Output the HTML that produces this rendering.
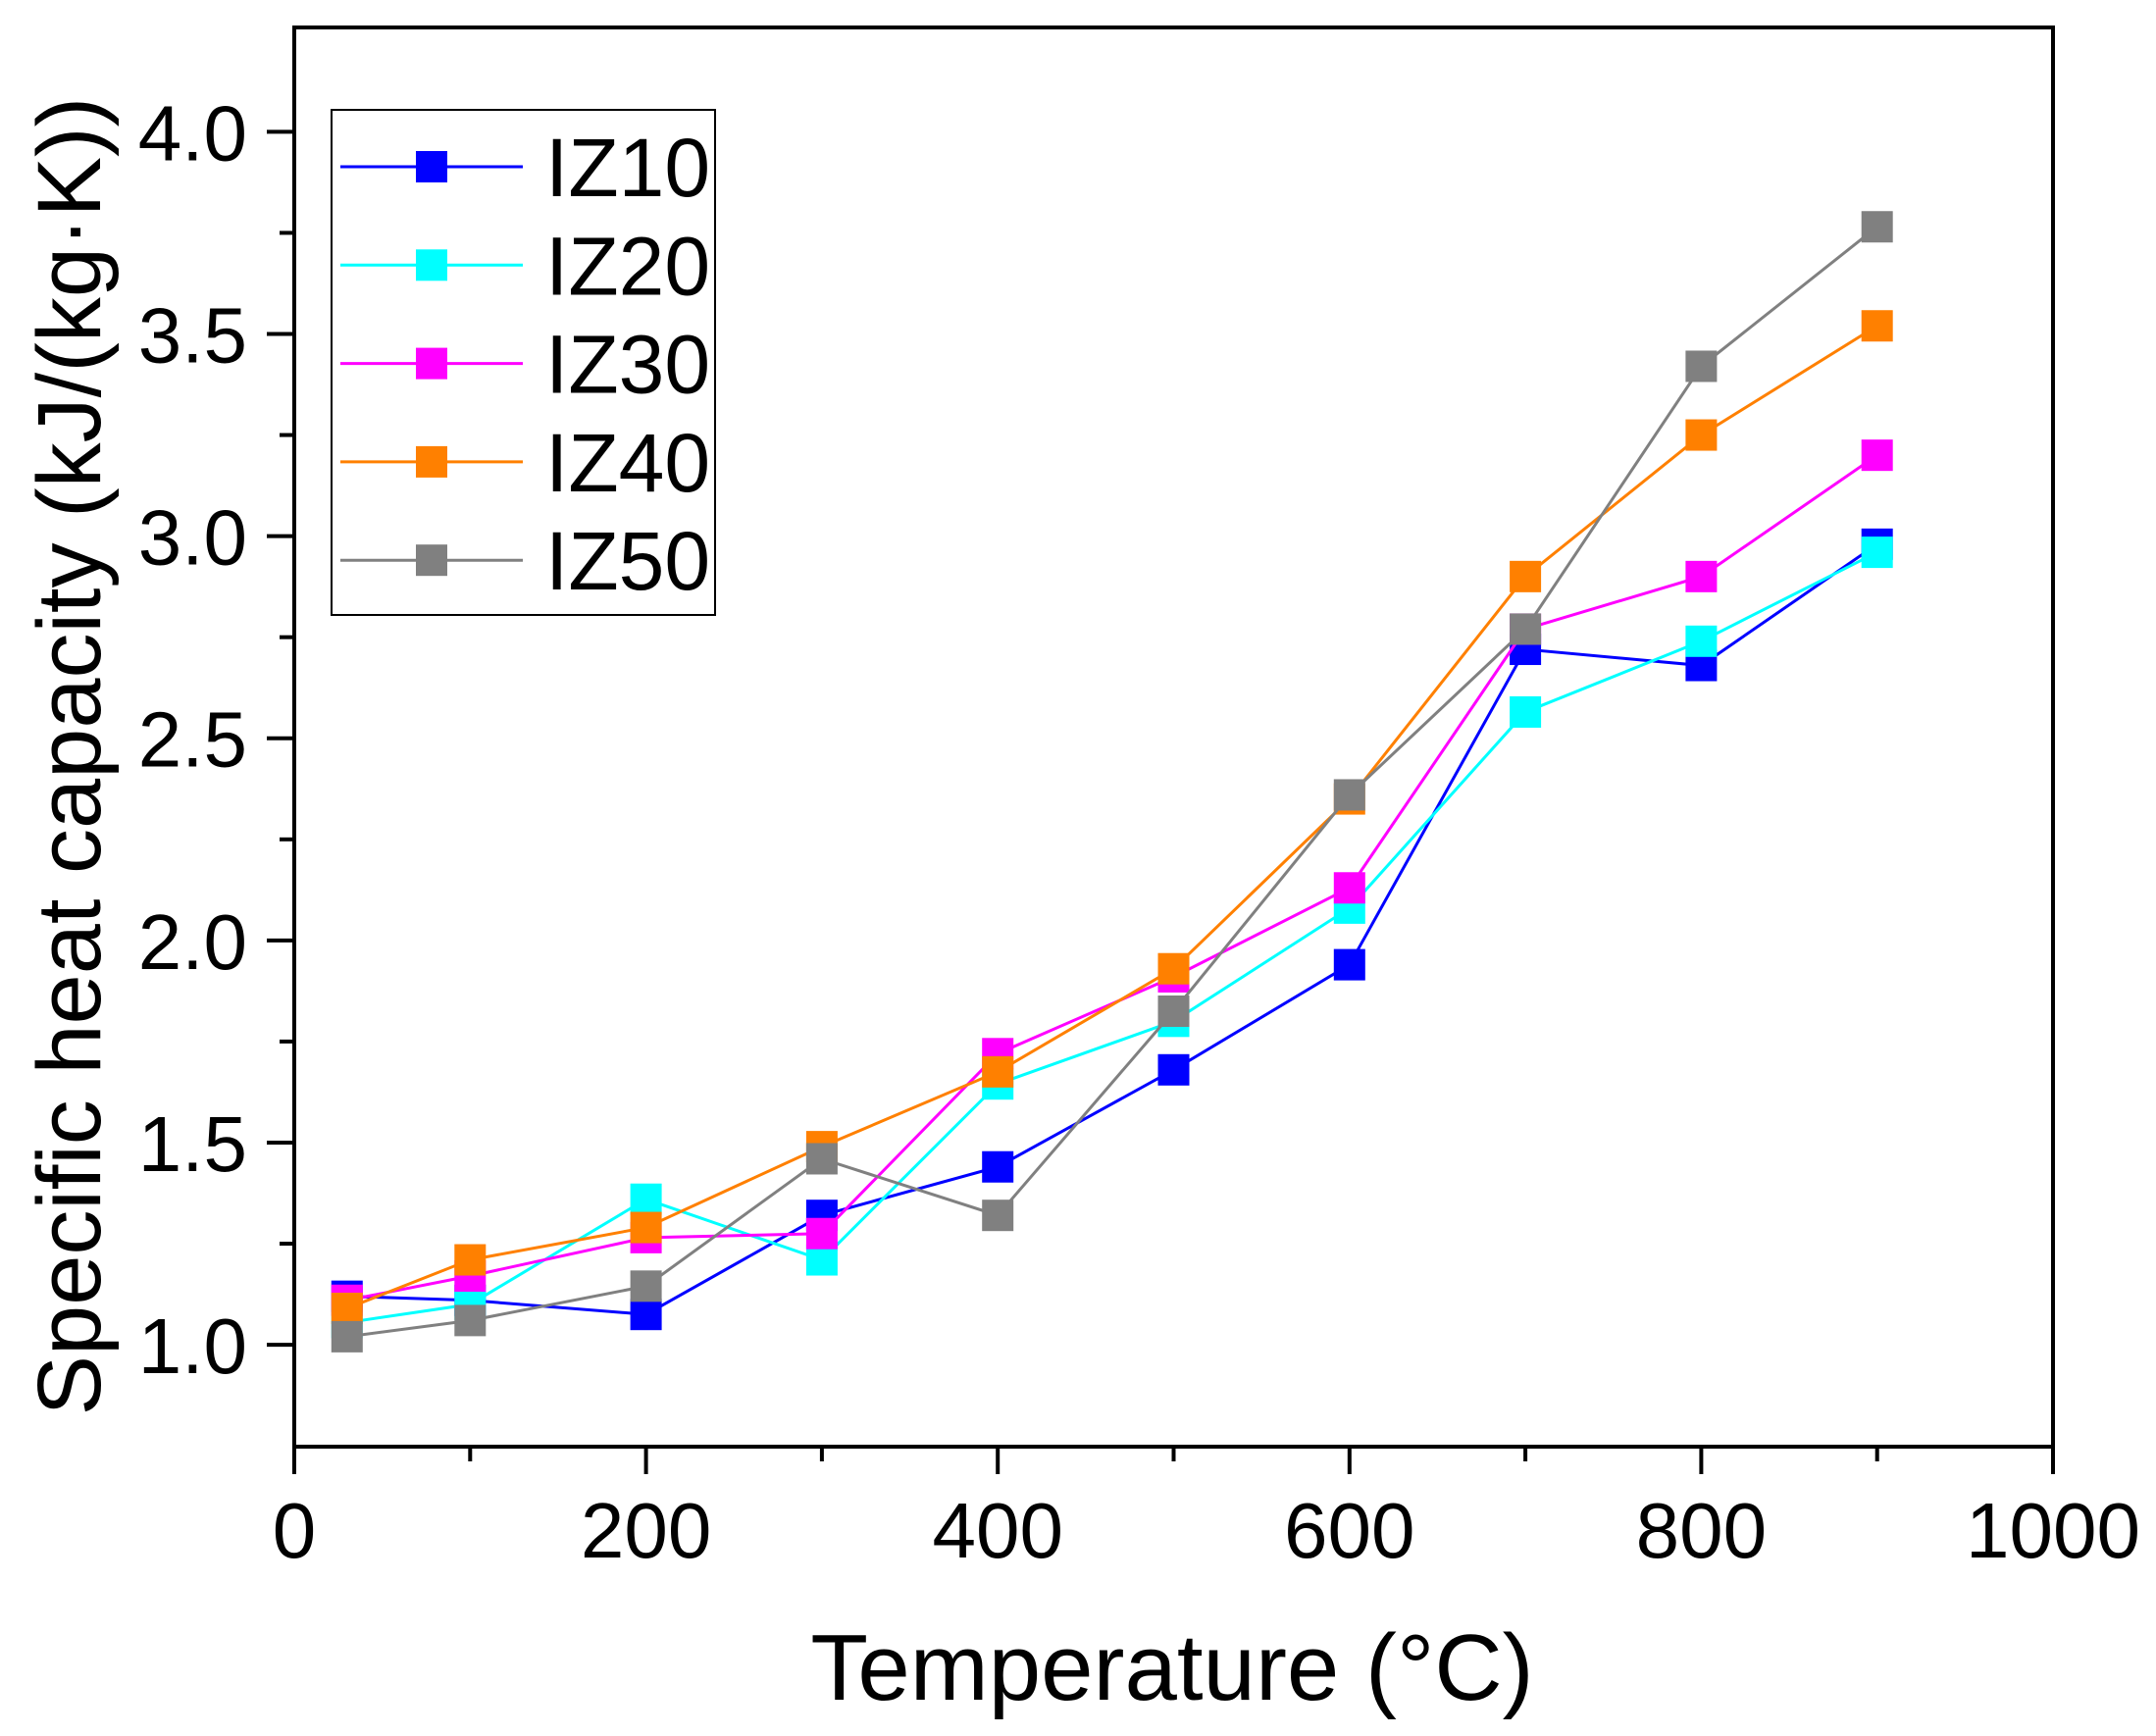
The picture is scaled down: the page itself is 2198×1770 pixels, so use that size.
<!DOCTYPE html>
<html><head><meta charset="utf-8"><style>
html,body{margin:0;padding:0;background:#fff;}
svg{display:block;font-family:"Liberation Sans",Arial,sans-serif;}
</style></head><body>
<svg id="chart" width="2198" height="1770" viewBox="0 0 2198 1770" xmlns="http://www.w3.org/2000/svg">
<rect width="2198" height="1770" fill="#fff"/>
<g id="series"></g>
<g id="axes"></g>
<g id="legend"></g>
<text x="1195" y="1733" font-size="96" text-anchor="middle">Temperature (°C)</text>
<text transform="translate(102,771) rotate(-90)" font-size="92" text-anchor="middle">Specific heat capacity (kJ/(kg·K))</text>
</svg>
<script>
const temps = [30,100,200,300,400,500,600,700,800,900];
const seriesNames = ["IZ10","IZ20","IZ30","IZ40","IZ50"];
const seriesColors = ["#0000ff","#00ffff","#ff00ff","#ff8000","#808080"];
const iz10 = [1.12,1.11,1.075,1.32,1.44,1.68,1.94,2.72,2.68,2.98];
const iz20 = [1.055,1.10,1.36,1.21,1.645,1.80,2.08,2.565,2.74,2.96];
const iz30 = [1.11,1.17,1.265,1.275,1.72,1.91,2.13,2.77,2.90,3.20];
const iz40 = [1.09,1.21,1.29,1.49,1.675,1.93,2.35,2.90,3.25,3.52];
const iz50 = [1.02,1.06,1.145,1.46,1.32,1.825,2.36,2.77,3.42,3.765];
const xTicks = [0,200,400,600,800,1000];
const xMinor = [100,300,500,700,900];
const yTicks = [1.0,1.5,2.0,2.5,3.0,3.5,4.0];
const yMinor = [1.25,1.75,2.25,2.75,3.25,3.75];

const L=300,R=2093,T=28,B=1475, X0=0,X1=1000,Y0=0.748,Y1=4.258;
function sx(v){return L+(v-X0)/(X1-X0)*(R-L);}
function sy(v){return B-(v-Y0)/(Y1-Y0)*(B-T);}
const NS="http://www.w3.org/2000/svg";
function mk(tag,attrs,parent){const e=document.createElementNS(NS,tag);for(const k in attrs)e.setAttribute(k,attrs[k]);parent.appendChild(e);return e;}

const allSeries=[iz10,iz20,iz30,iz40,iz50];
const sg=document.getElementById('series');
allSeries.forEach((vals,si)=>{
  const pts=vals.map((v,i)=>sx(temps[i])+','+sy(v)).join(' ');
  const pl=mk('polyline',{points:pts,fill:'none',stroke:seriesColors[si],'stroke-width':3},sg);
  
  
  vals.forEach((v,i)=>{
    const r=mk('rect',{x:sx(temps[i])-16,y:sy(v)-16,width:32,height:32,fill:seriesColors[si]},sg);
    
    
  });
});

const ag=document.getElementById('axes');
const frame=mk('rect',{x:L,y:T,width:R-L,height:B-T,fill:'none',stroke:'#000','stroke-width':4},ag);


xTicks.forEach(v=>{
  const t=mk('line',{x1:sx(v),x2:sx(v),y1:B,y2:B+28,stroke:'#000','stroke-width':4},ag);
  
  
  const lb=mk('text',{x:sx(v),y:1588,'font-size':80,'text-anchor':'middle'},ag);
  lb.textContent=v;
  
  
});
xMinor.forEach(v=>{
  const t=mk('line',{x1:sx(v),x2:sx(v),y1:B,y2:B+15,stroke:'#000','stroke-width':4},ag);
  
  
});
yTicks.forEach(v=>{
  const t=mk('line',{x1:L-28,x2:L,y1:sy(v),y2:sy(v),stroke:'#000','stroke-width':4},ag);
  
  
  const lb=mk('text',{x:252,y:sy(v)+29,'font-size':80,'text-anchor':'end'},ag);
  lb.textContent=v.toFixed(1);
  
  
});
yMinor.forEach(v=>{
  const t=mk('line',{x1:L-15,x2:L,y1:sy(v),y2:sy(v),stroke:'#000','stroke-width':4},ag);
  
  
});

const lg=document.getElementById('legend');
const box=mk('rect',{x:338,y:112,width:391,height:515,fill:'#fff',stroke:'#000','stroke-width':2},lg);


seriesNames.forEach((n,i)=>{
  const cy=170+i*100.3;
  const ln=mk('line',{x1:347,x2:533,y1:cy,y2:cy,stroke:seriesColors[i],'stroke-width':3},lg);
  
  
  const m=mk('rect',{x:424,y:cy-16,width:32,height:32,fill:seriesColors[i]},lg);
  
  
  const tx=mk('text',{x:556,y:cy+30,'font-size':84},lg);
  tx.textContent=n;
  
  
});
</script>
</body></html>
